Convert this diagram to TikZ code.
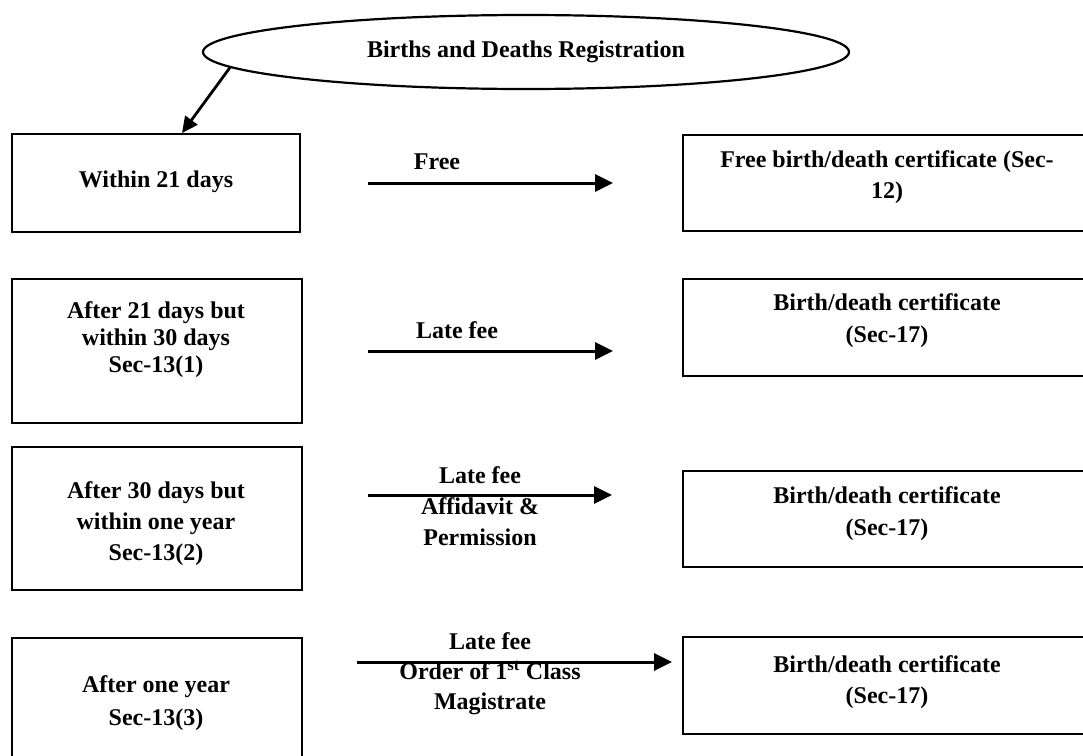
\documentclass[tikz,border=0pt]{standalone}
\usepackage{fontspec}
\setmainfont{Liberation Serif}
\usetikzlibrary{shapes.geometric,arrows.meta}
\begin{document}
\begin{tikzpicture}[x=1pt,y=-1pt,
  box/.style={draw,line width=2.6pt,inner sep=0pt},
  txt/.style={font=\fontsize{24}{#1}\selectfont\bfseries,align=center,inner sep=0pt},
  txt/.default=30,
  arr/.style={line width=3pt,-{Triangle[length=18pt,width=17pt]}}]
\useasboundingbox (0,0) rectangle (1083,755);
\clip (0,0) rectangle (1083,755);
\fill[white] (0,0) rectangle (1083,755);

% title ellipse
\node[draw,ellipse,line width=2.2pt,minimum width=646pt,minimum height=74pt,inner sep=0pt,txt] (ell) at (526,52) {Births and Deaths Registration};

% left boxes
\node[box,minimum width=288pt,minimum height=98pt] (L1) at (156,183) {};
\node[box,minimum width=290pt,minimum height=144pt] (L2) at (157,351) {};
\node[box,minimum width=290pt,minimum height=143pt] (L3) at (157,518.5) {};
\node[box,minimum width=290pt,minimum height=124pt] (L4) at (157,700) {};

% right boxes
\node[box,minimum width=408pt,minimum height=96pt] (R1) at (887,183) {};
\node[box,minimum width=408pt,minimum height=97pt] (R2) at (887,327.5) {};
\node[box,minimum width=408pt,minimum height=96pt] (R3) at (887,519) {};
\node[box,minimum width=408pt,minimum height=97pt] (R4) at (887,685.5) {};

% texts in left boxes
\node[txt] (tL1) at (156,182) {Within 21 days};
\node[txt=27] (tL2) at (156,340) {After 21 days but\\within 30 days\\Sec-13(1)};
\node[txt=31] (tL3) at (156,524) {After 30 days but\\within one year\\Sec-13(2)};
\node[txt=33] (tL4) at (156,703) {After one year\\Sec-13(3)};

% texts in right boxes
\node[txt=31] (tR1) at (887,177) {Free birth/death certificate (Sec-\\12)};
\node[txt=32] (tR2) at (887,321) {Birth/death certificate\\(Sec-17)};
\node[txt=32] (tR3) at (887,514) {Birth/death certificate\\(Sec-17)};
\node[txt=31] (tR4) at (887,682) {Birth/death certificate\\(Sec-17)};

% arrow labels
\node[txt] (f1) at (437,162) {Free};
\node[txt] (f2) at (457,330) {Late fee};
\node[txt=31] (f3) at (480,506) {Late fee\\Affidavit \&\\Permission};
\node[txt=30] (f4) at (490,674) {Late fee\\Order of 1\textsuperscript{st} Class\\Magistrate};

% arrow end points
\coordinate (a0) at (182,133);
\coordinate (a1s) at (368,183); \coordinate (a1e) at (613,183);
\coordinate (a2s) at (368,351); \coordinate (a2e) at (613,351);
\coordinate (a3s) at (368,495); \coordinate (a3e) at (612,495);
\coordinate (a4s) at (357,662); \coordinate (a4e) at (672,662);

\draw[line width=2.8pt,-{Triangle[length=16pt,width=15pt]}] (ell.183) -- (a0);
\draw[arr] (a1s) -- (a1e);
\draw[arr] (a2s) -- (a2e);
\draw[arr] (a3s) -- (a3e);
\draw[arr] (a4s) -- (a4e);
\end{tikzpicture}
\end{document}
